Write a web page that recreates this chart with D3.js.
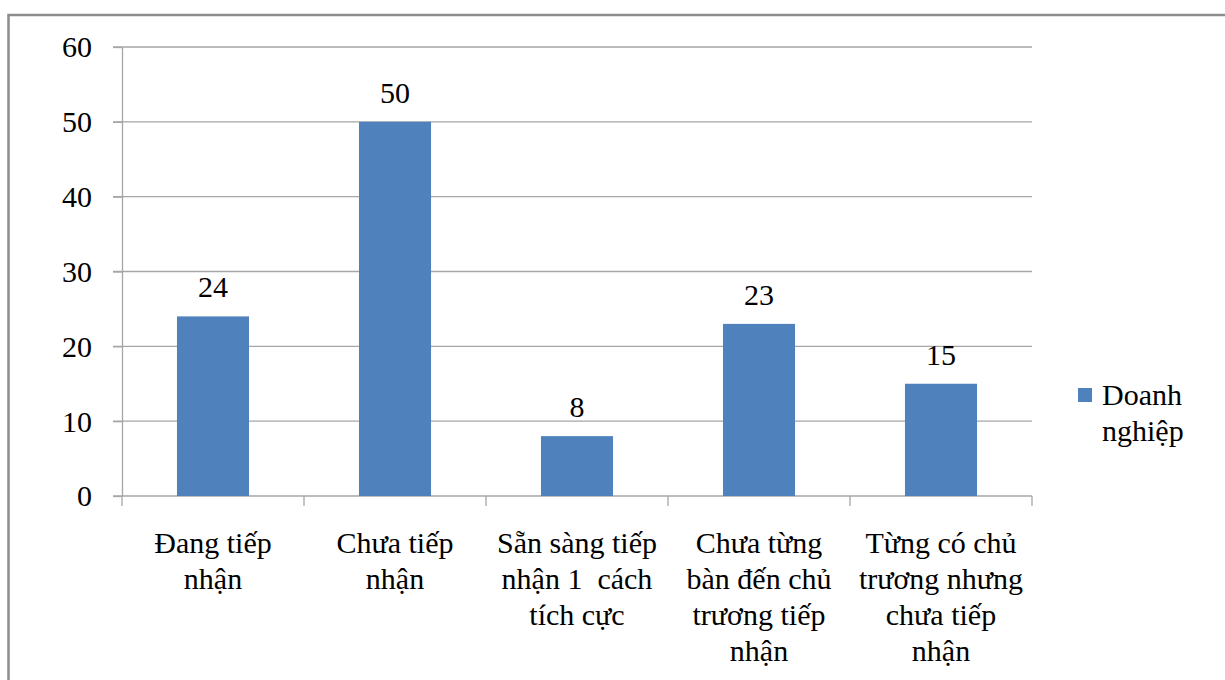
<!DOCTYPE html>
<html>
<head>
<meta charset="utf-8">
<script src="https://cdn.jsdelivr.net/npm/d3@7"></script>
<style>
  body { margin: 0; background: #fff; }
  svg { display: block; }
  .grid line { stroke: #a6a6a6; stroke-width: 1.3; }
  .axis path, .axis line { stroke: #a6a6a6; stroke-width: 1.3; }
</style>
</head>
<body>
<div id="chart"></div>
<script>
// data
var categories = [
    "Đang tiếp\nnhận",
    "Chưa tiếp\nnhận",
    "Sẵn sàng tiếp\nnhận 1  cách\ntích cực",
    "Chưa từng\nbàn đến chủ\ntrương tiếp\nnhận",
    "Từng có chủ\ntrương nhưng\nchưa tiếp\nnhận"
];
var values = [24, 50, 8, 23, 15];
var yTicks = [0, 10, 20, 30, 40, 50, 60];
var seriesName = ["Doanh", "nghiệp"];

var FONT = "Liberation Serif";
var W = 1225, H = 680;
var margin = {top: 47, left: 122};
var width = 910, height = 449;

var svg = d3.select("#chart").append("svg")
    .attr("width", W)
    .attr("height", H);

// outer chart border (runs off the picture on right and bottom)
svg.append("rect")
    .attr("x", 8.5)
    .attr("y", 15)
    .attr("width", 1400)
    .attr("height", 900)
    .attr("fill", "none")
    .attr("stroke", "#8c8c8c")
    .attr("stroke-width", 2.5);

var g = svg.append("g")
    .attr("transform", "translate(" + margin.left + "," + margin.top + ")");

var x = d3.scaleBand()
    .domain(d3.range(categories.length))
    .range([0, width])
    .paddingInner(0)
    .paddingOuter(0);

var y = d3.scaleLinear()
    .domain([0, 60])
    .range([height, 0]);

// gridlines
g.append("g")
    .attr("class", "grid")
    .selectAll("line")
    .data(yTicks.filter(function(d) { return d > 0; }))
    .enter().append("line")
    .attr("x1", -9)
    .attr("x2", width)
    .attr("y1", function(d) { return y(d); })
    .attr("y2", function(d) { return y(d); });

// y axis
var yAxis = d3.axisLeft(y)
    .tickValues(yTicks)
    .tickSize(9)
    .tickPadding(21)
    .tickSizeOuter(0);

g.append("g")
    .attr("class", "y-axis axis")
    .call(yAxis)
    .selectAll("text")
    .attr("dy", "0.33em")
    .style("font-family", FONT)
    .style("font-size", "30px")
    .style("fill", "#000");

// x axis line + ticks at band edges
var xAxisG = g.append("g")
    .attr("class", "x-axis axis")
    .attr("transform", "translate(0," + height + ")");

xAxisG.append("line")
    .attr("x1", -9)
    .attr("x2", width)
    .attr("y1", 0)
    .attr("y2", 0);

xAxisG.selectAll("line.tick")
    .data(d3.range(categories.length + 1))
    .enter().append("line")
    .attr("class", "tick")
    .attr("x1", function(i) { return i * x.bandwidth(); })
    .attr("x2", function(i) { return i * x.bandwidth(); })
    .attr("y1", 0)
    .attr("y2", 10);

// category labels
var catLabels = xAxisG.selectAll("text.cat")
    .data(categories)
    .enter().append("text")
    .attr("class", "cat")
    .attr("text-anchor", "middle")
    .attr("x", function(d, i) { return x(i) + x.bandwidth() / 2; })
    .attr("y", 57)
    .style("font-family", FONT)
    .style("font-size", "30px")
    .style("white-space", "pre");

catLabels.each(function(d) {
    var t = d3.select(this);
    d.split("\n").forEach(function(line, k) {
        t.append("tspan")
            .attr("x", t.attr("x"))
            .attr("dy", k === 0 ? 0 : 36)
            .text(line);
    });
});

// bars
var barW = x.bandwidth() * 0.396;

g.selectAll("rect.bar")
    .data(values)
    .enter().append("rect")
    .attr("class", "bar")
    .attr("x", function(d, i) { return x(i) + (x.bandwidth() - barW) / 2; })
    .attr("y", function(d) { return y(d); })
    .attr("width", barW)
    .attr("height", function(d) { return height - y(d); })
    .attr("fill", "#4f81bd");

// value labels
g.selectAll("text.val")
    .data(values)
    .enter().append("text")
    .attr("class", "val")
    .attr("text-anchor", "middle")
    .attr("x", function(d, i) { return x(i) + x.bandwidth() / 2; })
    .attr("y", function(d) { return y(d) - 19; })
    .style("font-family", FONT)
    .style("font-size", "30px")
    .text(function(d) { return d; });

// legend
var legend = svg.append("g")
    .attr("transform", "translate(1078,388)");

legend.append("rect")
    .attr("width", 14)
    .attr("height", 14)
    .attr("fill", "#4f81bd");

legend.append("text")
    .attr("x", 24)
    .attr("y", 17)
    .style("font-family", FONT)
    .style("font-size", "30px")
    .selectAll("tspan")
    .data(seriesName)
    .enter().append("tspan")
    .attr("x", 24)
    .attr("dy", function(d, i) { return i === 0 ? 0 : 36; })
    .text(function(d) { return d; });
</script>
</body>
</html>
